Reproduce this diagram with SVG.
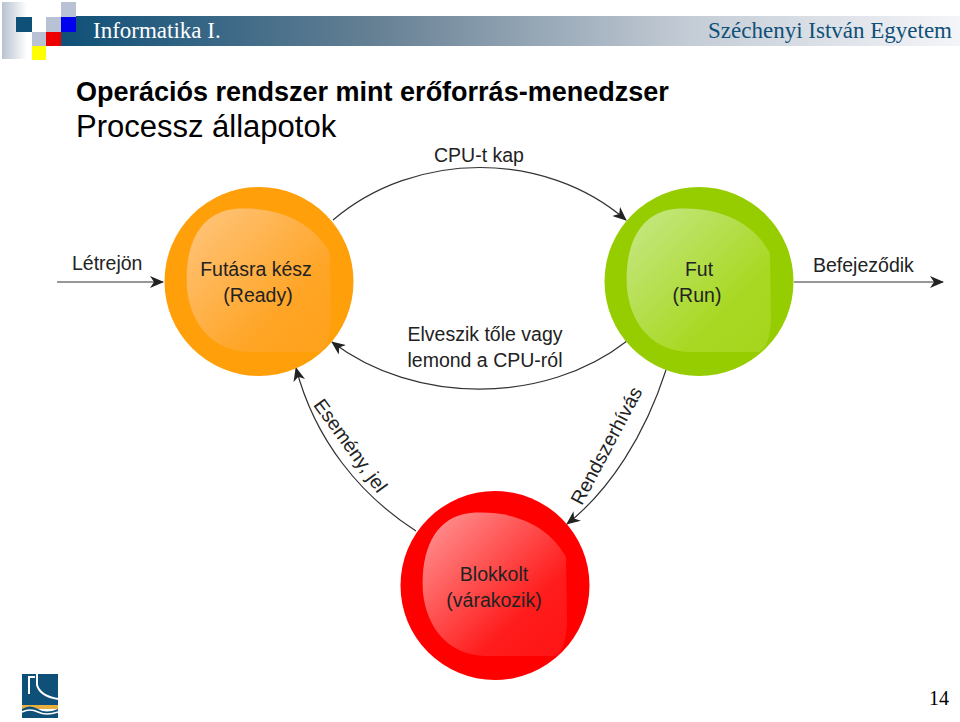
<svg xmlns="http://www.w3.org/2000/svg" width="960" height="722" viewBox="0 0 960 722">
<style>
.lbl{font-family:"Liberation Sans",Arial,sans-serif;font-size:19.5px;fill:#222}
.m{text-anchor:middle}
.c{fill:none;stroke:#333;stroke-width:1.2}
.hd{font-family:"Liberation Serif","Times New Roman",serif;font-size:23px}
.ttl{font-family:"Liberation Sans",Arial,sans-serif;font-size:27px;fill:#000}
</style>
<defs>
<marker id="a" markerUnits="userSpaceOnUse" viewBox="0 0 14 12" refX="13" refY="6" markerWidth="14" markerHeight="12" orient="auto"><path d="M0 0L14 6L0 12L4 6Z" fill="#222"/></marker>
<linearGradient id="bar" x1="0" x2="1" y1="0" y2="0"><stop offset="0" stop-color="#0f5078"/><stop offset=".35" stop-color="#668094"/><stop offset=".7" stop-color="#c4ccd6"/><stop offset="1" stop-color="#f4f5f8"/></linearGradient>
<linearGradient id="side" x1="0" x2="1" y1="0" y2="0"><stop offset="0" stop-color="#b8c2d0"/><stop offset="1" stop-color="#fff"/></linearGradient>
<linearGradient id="go" x1="0" y1="0" x2="1" y2="1"><stop offset="0" stop-color="#ffc680"/><stop offset=".7" stop-color="#ffa424"/><stop offset="1" stop-color="#ffa21c"/></linearGradient>
<linearGradient id="gg" x1="0" y1="0" x2="1" y2="1"><stop offset="0" stop-color="#c8e88a"/><stop offset=".7" stop-color="#a8d822"/><stop offset="1" stop-color="#a5d51c"/></linearGradient>
<linearGradient id="gr" x1="0" y1="0" x2="1" y2="1"><stop offset="0" stop-color="#ff9a9a"/><stop offset=".7" stop-color="#ff1c1c"/><stop offset="1" stop-color="#ff1414"/></linearGradient>
<path id="in" d="M-25 -72C15 -75 52 -62 71 -28L72 38C71 55 68 68 60 71L-10 71C-45 70 -68 45 -72 8C-75 -35 -60 -68 -25 -72Z"/>
</defs>
<g id="header">
<rect x="2" y="2" width="25" height="57" fill="url(#side)"/>
<rect x="61" y="16" width="899" height="30" fill="url(#bar)"/>
<rect x="61" y="2" width="15" height="15" fill="#b8c2d4"/>
<rect x="46" y="17" width="15" height="15" fill="#b8c2d4"/>
<rect x="61" y="17" width="15" height="15" fill="#0000ee"/>
<rect x="16" y="17" width="16" height="15" fill="#0f5078"/>
<rect x="32" y="32" width="14" height="14" fill="#b8c2d4"/>
<rect x="46" y="32" width="15" height="14" fill="#ee0000"/>
<rect x="32" y="46" width="14" height="14" fill="#ffff00"/>
<text class="hd" x="93" y="38" fill="#fff">Informatika I.</text>
<text class="hd" x="952" y="38" fill="#0f5078" text-anchor="end">Széchenyi István Egyetem</text>
</g>
<g id="title">
<text class="ttl" x="76" y="101" font-weight="bold">Operációs rendszer mint erőforrás-menedzser</text>
<text class="ttl" x="76" y="137" font-size="31" style="font-size:31px">Processz állapotok</text>
</g>
<g id="connectors">
<path class="c" d="M57 282H163" marker-end="url(#a)"/>
<path class="c" d="M794 282H943" marker-end="url(#a)"/>
<path class="c" d="M333 220C415 150 545 150 626 220" marker-end="url(#a)"/>
<path class="c" d="M627 341C545 405 415 405 332 342" marker-end="url(#a)"/>
<path class="c" d="M666 370C645 435 610 490 567 524" marker-end="url(#a)"/>
<path class="c" d="M416 531C360 495 315 440 296 368" marker-end="url(#a)"/>
</g>
<g id="ready">
<circle cx="259" cy="281.500" r="94.500" fill="#ff9f0a"/>
<use href="#in" x="259" y="281" fill="url(#go)"/>
<text class="lbl m" x="256" y="276">Futásra kész</text>
<text class="lbl m" x="258" y="302">(Ready)</text>
</g>
<g id="run">
<circle cx="699" cy="281.500" r="94.500" fill="#96cd00"/>
<use href="#in" x="699" y="281" fill="url(#gg)"/>
<text class="lbl m" x="699" y="276">Fut</text>
<text class="lbl m" x="697" y="302">(Run)</text>
</g>
<g id="blocked">
<circle cx="495" cy="585.500" r="94.500" fill="#ff0000"/>
<use href="#in" x="495" y="585" fill="url(#gr)"/>
<text class="lbl m" x="494" y="581">Blokkolt</text>
<text class="lbl m" x="494" y="607">(várakozik)</text>
</g>
<g id="labels">
<text class="lbl m" x="479" y="162">CPU-t kap</text>
<text class="lbl" x="72" y="270">Létrejön</text>
<text class="lbl" x="813" y="272">Befejeződik</text>
<text class="lbl m" x="485" y="341">Elveszik tőle vagy</text>
<text class="lbl m" x="485" y="367">lemond a CPU-ról</text>
<text class="lbl m" transform="translate(350,446) rotate(54)" x="0" y="6">Esemény, jel</text>
<text class="lbl m" transform="translate(607,446) rotate(-62)" x="0" y="6">Rendszerhívás</text>
</g>
<g id="logo">
<rect x="22" y="674" width="36" height="33" fill="#0f5078"/>
<path d="M29 694V677H35M37 674V685Q40 696 58 699" fill="none" stroke="#fff" stroke-width="2"/>
<rect x="22" y="705" width="36" height="4" fill="#e8ae40"/>
<path d="M22 709Q30 704 38 709T58 709V718H22Z" fill="#0f5078"/>
<path d="M22 712Q30 708 38 712T58 712" fill="none" stroke="#fff" stroke-width="1.500"/>
</g>
<text id="page" x="949" y="705" text-anchor="end" font-family="Liberation Serif,serif" font-size="20" fill="#000">14</text>
</svg>
